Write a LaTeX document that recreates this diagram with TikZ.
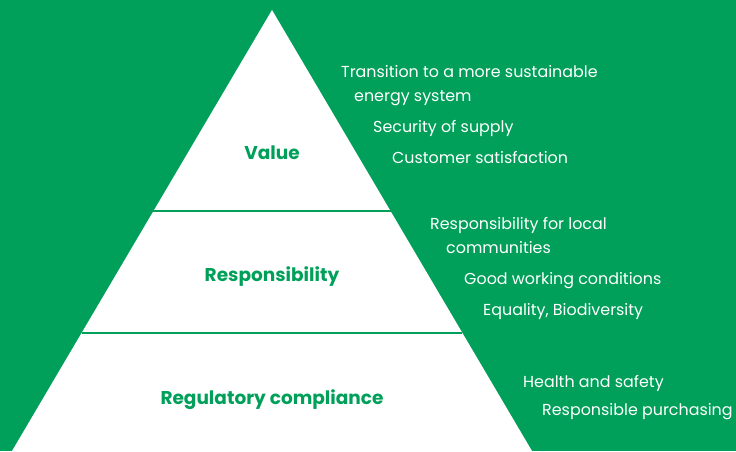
\documentclass[tikz,border=0pt]{standalone}
\usepackage{fontspec}
\setmainfont{Poppins}
\usetikzlibrary{calc}
\definecolor{pyrgreen}{RGB}{0,160,90}
\tikzset{
  tier/.style={text=pyrgreen,anchor=base,inner sep=0pt,font=\bfseries\fontsize{18.5}{22}\selectfont},
  item/.style={text=white,anchor=base west,inner sep=0pt,font=\fontsize{15.9}{19}\selectfont},
}

\begin{document}
\begin{tikzpicture}[x=1pt,y=-1pt]
\fill[pyrgreen] (0,0) rectangle (736,451);
\useasboundingbox (0,0) rectangle (736,451);
%pyramid
\coordinate (T) at (272,10);
\coordinate (L) at (12,451);
\coordinate (R) at (532,451);
\fill[white] (T)--(L)--(R)--cycle;
\foreach \t/\n in {0.4558/1,0.7324/2}
\draw[pyrgreen,line width=2pt] ($(T)!\t!(L)$) coordinate (L_\n) -- ($(T)!\t!(R)$) coordinate (R_\n);
%levels
\node[tier] (value) at (272,159) {Value};
\node[tier] (resp) at (272,281) {Responsibility};
\node[tier] (reg) at (272,404) {Regulatory compliance};
%items
\foreach \x/\y/\s [count=\i] in {341/77/{Transition to a more sustainable},354/101/{energy system},
  373/132/{Security of supply},392/163/{Customer satisfaction},
  430/229/{Responsibility for local},446/253/{communities},
  464/284/{Good working conditions},483/315/{Equality, Biodiversity},
  523/387/{Health and safety},542/415/{Responsible purchasing}}
\node[item] (item\i) at (\x,\y) {\s};
\end{tikzpicture}
\end{document}
